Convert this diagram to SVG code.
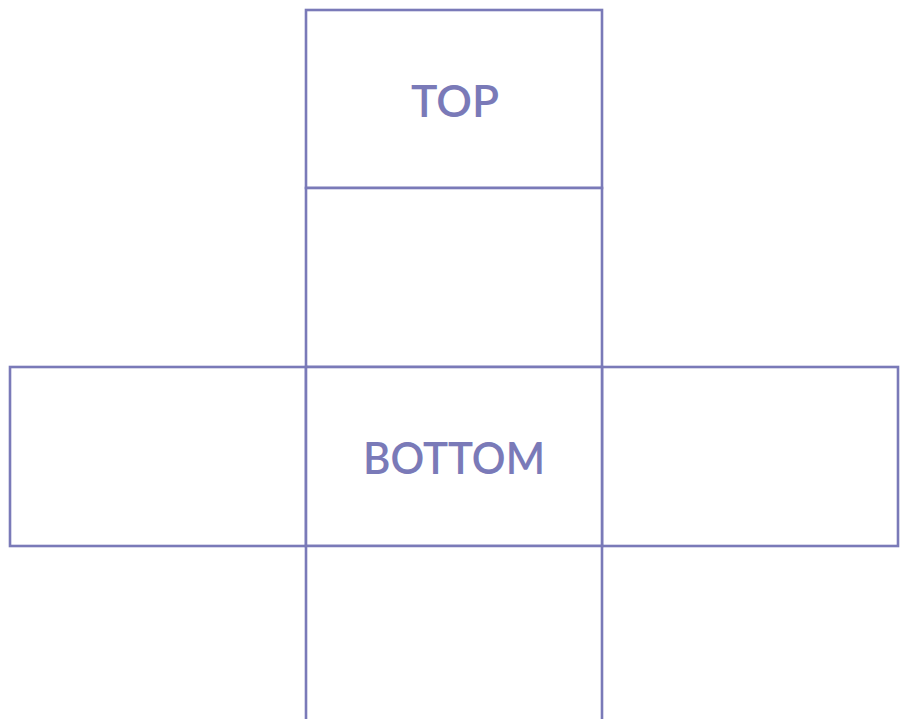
<svg xmlns="http://www.w3.org/2000/svg" width="906" height="719" viewBox="0 0 906 719">
<style>
.face{fill:#ffffff;stroke:#7a7ab8;stroke-width:2.6}
.lbl{fill:#7a7ab8;font-family:Lato,"Open Sans","Liberation Sans",sans-serif;font-size:44px;font-weight:600;text-anchor:middle}
</style>
<rect width="906" height="719" fill="#ffffff"/>
<g id="face-top"><rect class="face" x="306" y="10" width="296" height="178"/><text class="lbl" x="455" y="117" textLength="88" lengthAdjust="spacingAndGlyphs">TOP</text></g>
<g id="face-back"><rect class="face" x="306" y="188" width="296" height="179"/></g>
<g id="face-left"><rect class="face" x="10" y="367" width="296" height="179"/></g>
<g id="face-right"><rect class="face" x="602" y="367" width="296" height="179"/></g>
<g id="face-bottom"><rect class="face" x="306" y="367" width="296" height="179"/><text class="lbl" x="454" y="474" textLength="182" lengthAdjust="spacingAndGlyphs">BOTTOM</text></g>
<g id="face-front"><path class="face" d="M306 730 V546 H602 V730"/></g>
<g id="connectors"></g>
</svg>
